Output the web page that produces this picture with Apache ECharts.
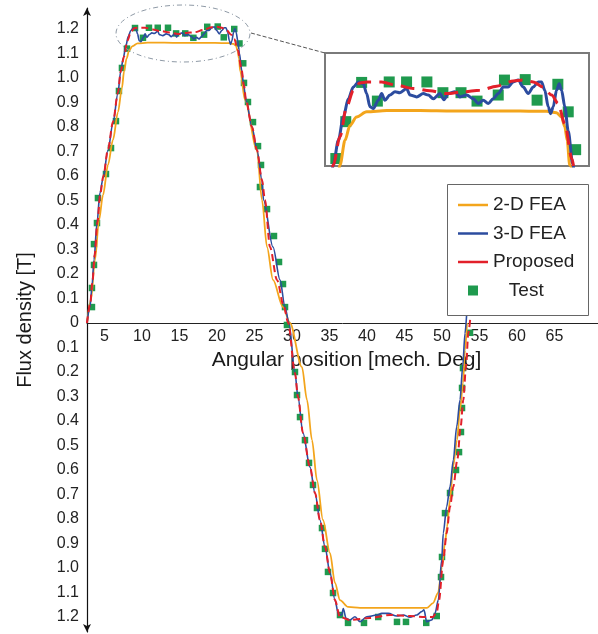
<!DOCTYPE html>
<html>
<head>
<meta charset="utf-8">
<script src="https://cdn.jsdelivr.net/npm/echarts@6/dist/echarts.min.js"></script>
<style>
  html, body { margin: 0; padding: 0; background: #fff; }
  #main { width: 598px; height: 634px; }
</style>
</head>
<body>
<div id="main"></div>
<script>
// [angular position (mech. deg), flux density (T)]
var fea2d = [
  [2.67, 0], [3.2, 0.094], [3.73, 0.257], [4.27, 0.42], [4.8, 0.522], [5.47, 0.645],
  [6.13, 0.747], [6.8, 0.861], [7.33, 0.96], [7.61, 1.027], [7.95, 1.08], [8.28, 1.112],
  [8.73, 1.13], [9.41, 1.141], [10.76, 1.144], [13.0, 1.144], [15.25, 1.143], [17.5, 1.143],
  [19.75, 1.143], [21.54, 1.142], [22.21, 1.139], [22.55, 1.13], [22.77, 1.109], [22.93, 1.08],
  [23.1, 1.027], [23.73, 0.91], [25.33, 0.706], [26.0, 0.502], [26.67, 0.31], [27.47, 0.176],
  [28.8, 0.065], [29.73, 0], [31.33, -0.18], [32.0, -0.314], [32.67, -0.478], [33.33, -0.641],
  [34.13, -0.804], [35.07, -0.939], [35.73, -1.061], [36.4, -1.131], [37.47, -1.159],
  [39.07, -1.163], [44.4, -1.163], [48.0, -1.163], [48.8, -1.143], [49.47, -1.102],
  [50.0, -0.996], [50.4, -0.898], [50.67, -0.833], [51.07, -0.722], [51.47, -0.588],
  [52.0, -0.478], [52.4, -0.355], [52.8, -0.245], [53.07, -0.11], [53.33, 0]
]

var fea3d = [
  [2.67, 0], [3.07, 0.065], [3.33, 0.147], [3.6, 0.257], [4.0, 0.408], [4.4, 0.531],
  [4.8, 0.59], [5.47, 0.706], [6.13, 0.816], [6.8, 0.939], [7.16, 1.027], [7.5, 1.08],
  [7.84, 1.13], [8.17, 1.169], [8.51, 1.194], [8.85, 1.205], [9.18, 1.201], [9.41, 1.18],
  [9.63, 1.152], [9.86, 1.148], [10.19, 1.166], [10.42, 1.18], [10.64, 1.166], [10.98, 1.177],
  [11.32, 1.184], [11.65, 1.182], [12.1, 1.191], [12.33, 1.177], [12.78, 1.173], [13.23, 1.18],
  [13.56, 1.177], [13.9, 1.169], [14.35, 1.18], [14.62, 1.167], [14.91, 1.18], [15.36, 1.184],
  [15.7, 1.173], [16.15, 1.177], [16.6, 1.169], [16.93, 1.159], [17.27, 1.166], [17.61, 1.159],
  [17.94, 1.169], [18.28, 1.18], [18.62, 1.194], [18.95, 1.194], [19.29, 1.205], [19.63, 1.209],
  [19.97, 1.194], [20.3, 1.18], [20.64, 1.194], [20.98, 1.205], [21.2, 1.205], [21.42, 1.187],
  [21.65, 1.152], [21.81, 1.137], [21.99, 1.152], [22.21, 1.187], [22.39, 1.201], [22.55, 1.187],
  [22.77, 1.152], [23.0, 1.1], [23.3, 1.03], [23.55, 0.97], [23.9, 0.905], [24.67, 0.8],
  [25.33, 0.706], [26.0, 0.584], [26.2, 0.502], [27.47, 0.31], [28.4, 0.176], [29.07, 0.065],
  [29.6, 0], [30.4, -0.204], [30.8, -0.302], [31.47, -0.449], [32.4, -0.588], [33.07, -0.694],
  [33.73, -0.804], [34.4, -0.914], [35.07, -1.02], [35.73, -1.131], [36.2, -1.19],
  [36.63, -1.192], [36.84, -1.165], [37.2, -1.205], [37.73, -1.212], [38.4, -1.199],
  [39.07, -1.219], [39.96, -1.199], [41.29, -1.192], [41.96, -1.185], [42.84, -1.185],
  [43.96, -1.196], [44.84, -1.192], [45.73, -1.201], [46.63, -1.192], [47.29, -1.178],
  [47.6, -1.171], [47.96, -1.219], [48.63, -1.212], [49.07, -1.185], [49.51, -1.131],
  [49.96, -0.967], [50.17, -0.858], [50.62, -0.75], [51.07, -0.668], [51.51, -0.559],
  [51.96, -0.423], [52.4, -0.314], [52.76, -0.178], [53.07, -0.042], [53.3, 0.04]
]

var proposed = [
  [2.67, 0], [3.1, 0.08], [3.4, 0.17], [3.7, 0.28], [4.05, 0.41], [4.45, 0.53], [4.85, 0.6],
  [5.47, 0.71], [6.13, 0.82], [6.8, 0.94], [7.16, 1.027], [7.61, 1.088], [8.06, 1.152],
  [8.51, 1.187], [8.96, 1.203], [9.41, 1.205], [10.42, 1.205], [11.43, 1.198], [12.55, 1.191],
  [13.68, 1.186], [14.8, 1.18], [15.92, 1.184], [17.04, 1.187], [18.17, 1.196], [19.29, 1.207],
  [19.97, 1.209], [20.64, 1.205], [21.31, 1.194], [21.88, 1.177], [22.32, 1.159], [22.77, 1.115],
  [23.25, 1.04], [23.6, 0.97], [23.87, 0.91], [24.67, 0.8], [25.33, 0.706], [26.0, 0.584],
  [26.4, 0.502], [27.07, 0.31], [28.0, 0.176], [28.93, 0.065], [29.5, 0], [30.4, -0.204],
  [30.8, -0.302], [31.47, -0.449], [32.4, -0.588], [33.07, -0.694], [33.73, -0.804],
  [34.4, -0.914], [35.07, -1.02], [35.73, -1.131], [36.4, -1.2], [37.73, -1.212],
  [40.4, -1.204], [43.07, -1.192], [45.73, -1.196], [47.73, -1.2], [48.8, -1.2],
  [49.33, -1.176], [49.6, -1.131], [50.17, -0.967], [50.62, -0.858], [51.07, -0.75],
  [51.51, -0.668], [52.04, -0.559], [52.49, -0.423], [52.84, -0.314], [53.2, -0.178],
  [53.51, -0.042], [53.8, 0.03]
]

var test = [
  [3.33, 0.065], [3.33, 0.143], [3.6, 0.237], [3.6, 0.322], [4.0, 0.408], [4.13, 0.51],
  [5.2, 0.608], [5.87, 0.714], [6.53, 0.824], [6.93, 0.947], [7.33, 1.041], [8.0, 1.12],
  [9.07, 1.204], [10.13, 1.164], [10.93, 1.205], [12.1, 1.205], [13.47, 1.205], [14.55, 1.182],
  [15.77, 1.182], [16.85, 1.164], [18.28, 1.177], [18.7, 1.209], [20.1, 1.21], [20.9, 1.166],
  [22.3, 1.2], [23.0, 1.141], [23.5, 1.06], [23.6, 0.98], [24.13, 0.902], [24.8, 0.82],
  [25.47, 0.722], [25.87, 0.645], [25.73, 0.555], [26.67, 0.465], [27.6, 0.355], [28.27, 0.249],
  [28.8, 0.159], [29.07, 0.065], [29.33, -0.008],
  [30.4, -0.2], [30.67, -0.294], [31.07, -0.384], [31.73, -0.478], [32.27, -0.571],
  [32.8, -0.661], [33.33, -0.755], [34.0, -0.837], [34.4, -0.922], [34.8, -1.016],
  [35.47, -1.102], [36.4, -1.192], [37.47, -1.224], [39.6, -1.224], [41.5, -1.2],
  [44.0, -1.22], [45.2, -1.22], [47.9, -1.224], [49.3, -1.196], [49.87, -1.037],
  [50.0, -0.955], [50.4, -0.776], [51.07, -0.694], [51.87, -0.6], [52.27, -0.527],
  [52.53, -0.445], [52.67, -0.347], [52.67, -0.265], [52.8, -0.184], [53.73, -0.04]
]

var xTicks = [5, 10, 15, 20, 25, 30, 35, 40, 45, 50, 55, 60, 65]
var yTicks = [-1.2, -1.1, -1.0, -0.9, -0.8, -0.7, -0.6, -0.5, -0.4, -0.3, -0.2, -0.1,
  0, 0.1, 0.2, 0.3, 0.4, 0.5, 0.6, 0.7, 0.8, 0.9, 1.0, 1.1, 1.2]

var ORANGE = '#f3a51c'
var BLUE = '#2c4c9f'
var RED = '#e2202a'
var GREEN = '#1f9a4e'
var FONT = 'Liberation Sans, Arial, sans-serif'
var LINE_ICON = 'path://M0,0H30V2.5H0Z'
var BOX_ICON = 'path://M0,0H10V10H0Z'

var Y_MIN = -1.2612
var Y_MAX = 1.2857
var PLOT_H = 624
// x axis sits on y = 0; move it up from the grid bottom by that distance
var X_OFFSET = -Math.round(PLOT_H * (0 - Y_MIN) / (Y_MAX - Y_MIN))

var chartDom = document.getElementById('main')
var myChart = echarts.init(chartDom)
var option

function lineSeries (name, data, color, width, dash, idx) {
  return {
    name: name,
    type: 'line',
    xAxisIndex: idx,
    yAxisIndex: idx,
    data: data,
    symbol: 'none',
    smooth: 0.3,
    smoothMonotone: 'x',
    lineStyle: { color: color, width: width, type: dash },
    itemStyle: { color: color },
    z: 3
  }
}

option = {
  backgroundColor: '#ffffff',
  animation: false,
  textStyle: { fontFamily: FONT },
  grid: [{
    left: 87,
    right: 0,
    top: 8,
    height: PLOT_H,
    outerBoundsMode: 'none',
    containLabel: false
  }, {
    left: 325,
    top: 53,
    width: 264,
    height: 113,
    show: true,
    outerBoundsMode: 'none',
    backgroundColor: '#ffffff',
    borderColor: '#7a7a7a',
    borderWidth: 2
  }],
  legend: {
    orient: 'vertical',
    left: 458,
    top: 195,
    padding: 0,
    itemWidth: 30,
    itemHeight: 10,
    itemGap: 8.5,
    symbolKeepAspect: true,
    data: [
      { name: '2-D FEA', icon: LINE_ICON },
      { name: '3-D FEA', icon: LINE_ICON },
      { name: 'Proposed', icon: LINE_ICON },
      { name: 'Test', icon: BOX_ICON }
    ],
    formatter: function (name) {
      return name === 'Test' ? '   Test' : name
    },
    textStyle: { fontSize: 19, lineHeight: 20, color: '#222', fontFamily: FONT },
    z: 5
  },
  xAxis: [{
    type: 'value',
    gridIndex: 0,
    position: 'bottom',
    offset: X_OFFSET,
    min: 2.67,
    max: 70.8,
    name: 'Angular position [mech. Deg]',
    nameLocation: 'middle',
    nameGap: 22,
    nameTextStyle: { fontSize: 21, color: '#1a1a1a', padding: [0, 0, 0, 8] },
    axisLine: { onZero: false, lineStyle: { color: '#222', width: 1 } },
    axisTick: { show: false },
    splitLine: { show: false },
    axisLabel: {
      customValues: xTicks,
      fontSize: 16,
      color: '#222',
      margin: 6
    }
  }, {
    type: 'value',
    gridIndex: 1,
    min: 6.6,
    max: 24.4,
    show: false,
    splitLine: { show: false }
  }],
  yAxis: [{
    type: 'value',
    gridIndex: 0,
    min: Y_MIN,
    max: Y_MAX,
    name: 'Flux density [T]',
    nameLocation: 'middle',
    nameGap: 52,
    nameTextStyle: { fontSize: 20, color: '#1a1a1a' },
    axisLine: {
      show: true,
      onZero: false,
      symbol: ['arrow', 'arrow'],
      symbolSize: [6, 8],
      lineStyle: { color: '#111', width: 1.2 }
    },
    axisTick: { show: false },
    splitLine: { show: false },
    axisLabel: {
      customValues: yTicks,
      fontSize: 16,
      color: '#222',
      margin: 8,
      formatter: function (v) {
        if (Math.abs(v) < 1e-9) return '0'
        return Math.abs(v).toFixed(1)
      }
    }
  }, {
    type: 'value',
    gridIndex: 1,
    min: 1.025,
    max: 1.267,
    show: false,
    splitLine: { show: false }
  }],
  graphic: [{
    type: 'ellipse',
    shape: { cx: 183, cy: 33.5, rx: 67, ry: 28.5 },
    style: { fill: 'none', stroke: '#8f9aa6', lineWidth: 1, lineDash: [5, 3, 1, 3] },
    z: 10
  }, {
    type: 'line',
    shape: { x1: 251, y1: 33, x2: 325, y2: 53 },
    style: { stroke: '#555', lineWidth: 1, lineDash: [4, 2] },
    z: 10
  }, {
    type: 'rect',
    shape: { x: 447.5, y: 184.5, width: 141, height: 131 },
    style: { fill: '#ffffff', stroke: '#666', lineWidth: 1 },
    z: 4
  }],
  series: [
    {
      name: 'Test',
      type: 'scatter',
      data: test,
      symbol: 'rect',
      symbolSize: 6.5,
      itemStyle: { color: GREEN, opacity: 1 },
      z: 2
    },
    lineSeries('2-D FEA', fea2d, ORANGE, 1.8, 'solid', 0),
    lineSeries('3-D FEA', fea3d, BLUE, 1.6, 'solid', 0),
    lineSeries('Proposed', proposed, RED, 2, [7, 4], 0),
    {
      name: 'Test',
      type: 'scatter',
      xAxisIndex: 1,
      yAxisIndex: 1,
      data: test,
      symbol: 'rect',
      symbolSize: 11,
      itemStyle: { color: GREEN, opacity: 1 },
      z: 2
    },
    lineSeries('2-D FEA', fea2d, ORANGE, 3, 'solid', 1),
    lineSeries('3-D FEA', fea3d, BLUE, 3, 'solid', 1),
    lineSeries('Proposed', proposed, RED, 3, [14, 8], 1)
  ]
}

option && myChart.setOption(option)
</script>
</body>
</html>
